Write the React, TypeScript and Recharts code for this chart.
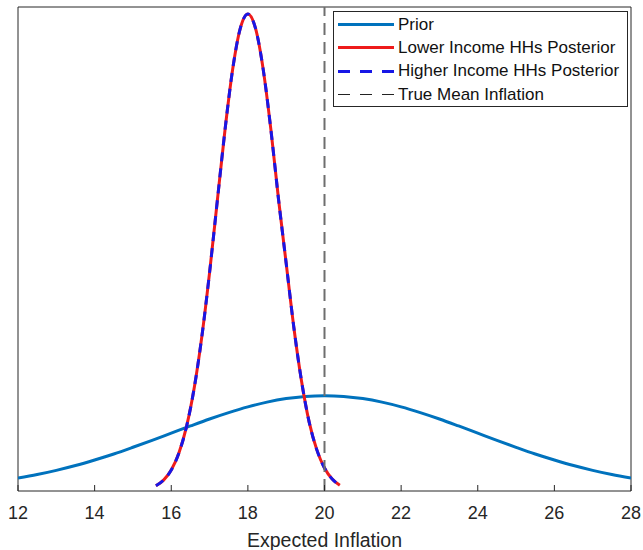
import React from "react";
import {
  ComposedChart,
  Legend,
  Line,
  ReferenceArea,
  ReferenceLine,
  XAxis,
  YAxis,
} from "recharts";

// prior belief density over expected inflation
const priorX = [
  12, 12.5, 13, 13.5, 14, 14.5, 15, 15.5, 16, 16.5, 17, 17.5, 18, 18.5, 19, 19.5,
  20, 20.5, 21, 21.5, 22, 22.5, 23, 23.5, 24, 24.5, 25, 25.5, 26, 26.5, 27, 27.5, 28,
];
const priorY = [
  0.0135, 0.0172, 0.0216, 0.0266, 0.0324, 0.0387, 0.0457, 0.053, 0.0605, 0.068,
  0.0753, 0.082, 0.088, 0.0929, 0.0966, 0.0989, 0.0997, 0.0989, 0.0966, 0.0929,
  0.088, 0.082, 0.0753, 0.068, 0.0605, 0.053, 0.0457, 0.0387, 0.0324, 0.0266,
  0.0216, 0.0172, 0.0135,
];

// posterior densities (both groups end up on the same curve)
const postX = [
  15.6, 15.8, 16, 16.2, 16.4, 16.6, 16.8, 17, 17.2, 17.4, 17.6, 17.8, 18, 18.2,
  18.4, 18.6, 18.8, 19, 19.2, 19.4, 19.6, 19.8, 20, 20.2, 20.4,
];
const lowerPostY = [
  0.0055, 0.0114, 0.0219, 0.0397, 0.0675, 0.1079, 0.1619, 0.2283, 0.3025, 0.3764,
  0.4401, 0.4834, 0.4987, 0.4836, 0.4408, 0.378, 0.305, 0.238, 0.171, 0.115,
  0.072, 0.043, 0.024, 0.0125, 0.006,
];
const higherPostY = [
  0.0055, 0.0114, 0.0219, 0.0397, 0.0675, 0.1079, 0.1619, 0.2283, 0.3025, 0.3764,
  0.4401, 0.4834, 0.4987, 0.4836, 0.4408, 0.378, 0.305, 0.238, 0.171, 0.115,
  0.072, 0.043, 0.024, 0.0125, 0.006,
];

const trueMean = 20;
const xTicks = [12, 14, 16, 18, 20, 22, 24, 26, 28];
const Y_MAX = 0.506;

const priorData = priorX.map((x, i) => ({ x, y: priorY[i] }));
const lowerData = postX.map((x, i) => ({ x, y: lowerPostY[i] }));
const higherData = postX.map((x, i) => ({ x, y: higherPostY[i] }));

const W = 643;
const H = 550;
const PLOT_TOP = 7;
const PLOT_BOTTOM = 491;
const AXIS = "#262626";
const BLUE = "#0072BD";
const RED = "#ee1b1b";
const DBLUE = "#1717e6";
const FONT = "'Liberation Sans', Arial, sans-serif";

const legendItems = [
  { label: "Prior", color: BLUE, dash: undefined, width: 3 },
  { label: "Lower Income HHs Posterior", color: RED, dash: undefined, width: 3 },
  { label: "Higher Income HHs Posterior", color: DBLUE, dash: "12 10", width: 3 },
  { label: "True Mean Inflation", color: "#222", dash: "12 10", width: 1.2 },
];

const BottomTick = (props: any) => {
  const { x, payload } = props;
  return (
    <g>
      <line x1={x} x2={x} y1={PLOT_BOTTOM} y2={PLOT_BOTTOM - 6} stroke={AXIS} />
      <text x={x} y={PLOT_BOTTOM + 28} textAnchor="middle" fontSize={18} fill={AXIS}>
        {payload.value}
      </text>
    </g>
  );
};

const TopTick = (props: any) => {
  const { x } = props;
  return <line x1={x} x2={x} y1={PLOT_TOP} y2={PLOT_TOP + 6} stroke={AXIS} />;
};

const renderLegend = () => (
  <div
    style={{
      border: `1px solid ${AXIS}`,
      background: "#fff",
      padding: "1px 0 0",
      fontFamily: FONT,
      fontSize: 17,
      color: "#111",
    }}
  >
    {legendItems.map((it) => (
      <div key={it.label} style={{ display: "flex", alignItems: "center", height: 23.3 }}>
        <svg width={64} height={23} style={{ flex: "none" }}>
          <line
            x1={4}
            x2={60}
            y1={11.5}
            y2={11.5}
            stroke={it.color}
            strokeWidth={it.width}
            strokeDasharray={it.dash}
          />
        </svg>
        <span style={{ whiteSpace: "nowrap" }}>{it.label}</span>
      </div>
    ))}
  </div>
);

export default function App() {
  return (
    <div style={{ position: "absolute", left: 0, top: 0, width: W, height: H, background: "#fff", fontFamily: FONT }}>
      <ComposedChart
        width={W}
        height={H}
        margin={{ top: PLOT_TOP, right: 12, left: 18, bottom: 0 }}
      >
        <XAxis
          type="number"
          dataKey="x"
          domain={[12, 28]}
          ticks={xTicks}
          allowDataOverflow
          height={59}
          axisLine={false}
          tickLine={false}
          tick={<BottomTick />}
          label={{
            value: "Expected Inflation",
            position: "insideBottom",
            offset: 3,
            fontSize: 19.5,
            fill: AXIS,
          }}
        />
        <XAxis
          xAxisId="top"
          orientation="top"
          type="number"
          dataKey="x"
          domain={[12, 28]}
          ticks={xTicks}
          height={0}
          axisLine={false}
          tickLine={false}
          tick={<TopTick />}
        />
        <YAxis hide type="number" domain={[0, Y_MAX]} allowDataOverflow />
        <ReferenceArea
          x1={12}
          x2={28}
          y1={0}
          y2={Y_MAX}
          fill="none"
          stroke={AXIS}
          strokeWidth={1}
        />
        <Line
          data={priorData}
          dataKey="y"
          type="monotone"
          stroke={BLUE}
          strokeWidth={3}
          dot={false}
          isAnimationActive={false}
          name="Prior"
        />
        <Line
          data={lowerData}
          dataKey="y"
          type="monotone"
          stroke={RED}
          strokeWidth={3}
          dot={false}
          isAnimationActive={false}
          name="Lower Income HHs Posterior"
        />
        <Line
          data={higherData}
          dataKey="y"
          type="monotone"
          stroke={DBLUE}
          strokeWidth={3}
          strokeDasharray="9 7"
          dot={false}
          isAnimationActive={false}
          name="Higher Income HHs Posterior"
        />
        <ReferenceLine
          x={trueMean}
          stroke="#6e6e6e"
          strokeWidth={2}
          strokeDasharray="12 7"
        />
        <Legend
          layout="vertical"
          align="center"
          verticalAlign="middle"
          content={renderLegend}
          wrapperStyle={{ top: 11, left: 333, width: 295 }}
        />
      </ComposedChart>
    </div>
  );
}
